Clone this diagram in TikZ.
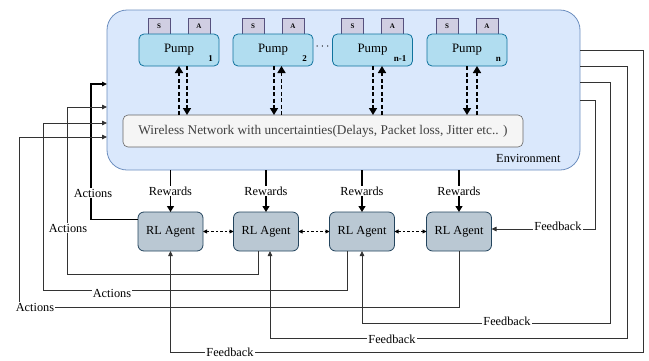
\documentclass[tikz,border=0pt]{standalone}
\usepackage{fontspec}
\setmainfont{Liberation Serif}
\usetikzlibrary{arrows.meta,calc}

\definecolor{envfill}{HTML}{DAE8FC}
\definecolor{envdraw}{HTML}{6C8EBF}
\definecolor{pumpfill}{HTML}{B1DDF0}
\definecolor{pumpdraw}{HTML}{10739E}
\definecolor{tagfill}{HTML}{D0CEE2}
\definecolor{tagdraw}{HTML}{56517E}
\definecolor{netfill}{HTML}{F5F5F5}
\definecolor{netdraw}{HTML}{666666}
\definecolor{agentfill}{HTML}{BAC8D3}
\definecolor{agentdraw}{HTML}{23445D}
\definecolor{wire}{HTML}{333333}

\tikzset{
  txt/.style={font=\fontsize{12.3}{14}\selectfont},
  envbox/.style={draw=envdraw, fill=envfill, rounded corners=20pt, inner sep=0pt, outer sep=0pt, line width=0.8pt},
  pumpbox/.style={draw=pumpdraw, fill=pumpfill, rounded corners=5pt, minimum width=80pt, minimum height=32pt, inner sep=0pt, outer sep=0pt, line width=0.8pt, font=\fontsize{12.8}{14}\selectfont},
  tagbox/.style={draw=tagdraw, fill=tagfill, minimum width=22pt, minimum height=16pt, inner sep=0pt, outer sep=0pt, line width=0.6pt, font=\fontsize{7}{8}\selectfont\bfseries},
  sub/.style={font=\fontsize{9}{10}\selectfont\bfseries, inner sep=0pt},
  netbox/.style={draw=netdraw, fill=netfill, rounded corners=5pt, minimum width=400pt, minimum height=32pt, inner sep=0pt, outer sep=0pt, line width=0.6pt, text=black!75, font=\fontsize{13.3}{15}\selectfont},
  agent/.style={draw=agentdraw, fill=agentfill, rounded corners=6pt, minimum width=65pt, minimum height=39pt, inner sep=0pt, outer sep=0pt, line width=0.8pt, font=\fontsize{12.3}{14}\selectfont},
  radio/.style={line width=1.6pt, dash pattern=on 4pt off 2.5pt, -{Triangle[length=7pt,width=8pt]}},
  rew/.style={line width=1.3pt, draw=black, -{Triangle[length=6pt,width=7pt]}},
  link/.style={line width=0.8pt, dash pattern=on 2.5pt off 2pt, {Triangle[length=4pt,width=4pt]}-{Triangle[length=4pt,width=4pt]}},
  act/.style={line width=0.8pt, draw=wire, -{Triangle[length=5pt,width=4.5pt]}},
  lbl/.style={fill=white, inner sep=1pt, txt},
}

\begin{document}
\begin{tikzpicture}[x=1pt,y=-1pt]
\useasboundingbox (0,0) rectangle (649,360);

% environment container
\node[envbox, minimum width=473pt, minimum height=160pt] (env) at (343.5,90) {};
\node[txt, anchor=east] (envlbl) at (564,158) {Environment};

% pumps with their S / A tags
\foreach \i/\x/\s in {1/179/1, 2/273/2, 3/372.5/n-1, 4/467/n}{
  \node[tagbox] (s\i) at (\x-20,26) {S};
  \node[tagbox] (t\i) at (\x+20,26) {A};
  \node[pumpbox] (p\i) at (\x,50) {Pump};
  \node[sub, anchor=south east] (n\i) at ($(p\i.south east)+(-6,-4)$) {\s};
}
\node[font=\fontsize{12}{13}\selectfont] (dots) at (322.5,47) {$\cdots$};

% wireless network
\node[netbox] (net) at (323,131) {Wireless Network with uncertainties(Delays, Packet loss, Jitter etc.. )};

% pump <-> network links
\draw[radio] (net.north -| 179,0) -- (p1.south -| 179,0);
\draw[radio] (p1.south -| 187,0) -- (net.north -| 187,0);
\draw[radio] (p2.south -| 274,0) -- (net.north -| 274,0);
\draw[radio] (net.north -| 281.5,0) -- (p2.south -| 281.5,0);
\draw[radio] (p3.south -| 373,0) -- (net.north -| 373,0);
\draw[radio] (net.north -| 382,0) -- (p3.south -| 382,0);
\draw[radio] (p4.south -| 467,0) -- (net.north -| 467,0);
\draw[radio] (net.north -| 477,0) -- (p4.south -| 477,0);

% RL agents
\node[agent] (a1) at (170.5,231.5) {RL Agent};
\node[agent] (a2) at (266,231.5) {RL Agent};
\node[agent] (a3) at (362,231.5) {RL Agent};
\node[agent] (a4) at (459,231.5) {RL Agent};

\draw[link] (a1) -- (a2);
\draw[link] (a2) -- (a3);
\draw[link] (a3) -- (a4);

% rewards
\foreach \i in {1,2,3,4}{
  \draw[rew] (env.south -| a\i) -- node[lbl] {Rewards} (a\i);
}

% actions back to the environment
\draw[act, line width=1.6pt, draw=black] ($(a1.west)+(0,-12)$) -| (91,84) -- (env.west |- 0,84);
\draw[act] ($(a2.south)+(-8,0)$) |- (67,274) |- (env.west |- 0,107);
\draw[act] ($(a3.south)+(-15,0)$) |- (43,290) |- (env.west |- 0,123);
\draw[act] (a4.south) |- (19,307) |- (env.west |- 0,137);
\node[lbl] (al1) at (93,193) {Actions};
\node[lbl] (al2) at (68,228) {Actions};
\node[lbl] (al3) at (112,293) {Actions};
\node[lbl] (al4) at (35,307) {Actions};

% feedback from the environment
\draw[act] (env.east |- 0,50) -| (643,352) -| (a1.south);
\draw[act] (env.east |- 0,66) -| (627,338) -| ($(a2.south)+(4,0)$);
\draw[act] (env.east |- 0,82) -| (610,323) -| (a3.south);
\draw[act] (env.east |- 0,100) -| (595,229) -- (a4.east |- 0,229);
\node[lbl] (fl1) at (230,352) {Feedback};
\node[lbl] (fl2) at (392,339) {Feedback};
\node[lbl] (fl3) at (507,321) {Feedback};
\node[lbl] (fl4) at (558,226) {Feedback};
\end{tikzpicture}
\end{document}
